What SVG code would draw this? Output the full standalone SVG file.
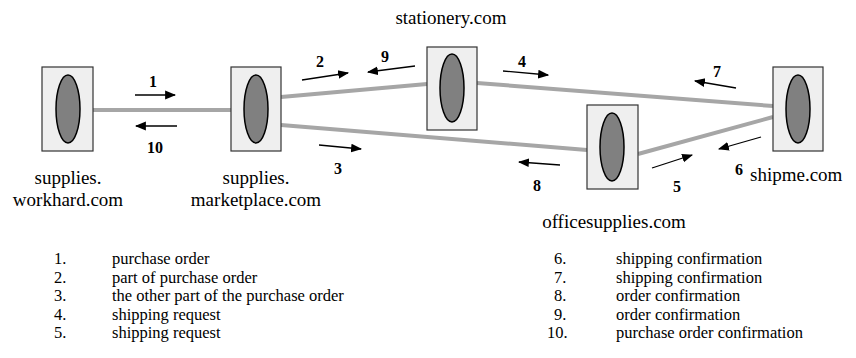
<svg xmlns="http://www.w3.org/2000/svg" width="856" height="358" viewBox="0 0 856 358">
<defs>
<marker id="ah" viewBox="0 0 10 10" refX="9" refY="5" markerWidth="11" markerHeight="11" markerUnits="userSpaceOnUse" orient="auto">
<path d="M0,1 L10,5 L0,9 Z" fill="#000"/>
</marker>
<style>
.box{fill:#efefef;stroke:#333;stroke-width:1.2}
.ell{fill:#808080;stroke:#000;stroke-width:1.5}
.link{stroke:#a6a6a6;stroke-width:4;fill:none}
.arr{stroke:#000;stroke-width:1.3;fill:none;marker-end:url(#ah)}
.lbl{font-family:"Liberation Serif","Times New Roman",serif;font-size:19px;fill:#000}
.num{font-family:"Liberation Serif","Times New Roman",serif;font-size:16px;font-weight:bold;fill:#000}
.leg{font-family:"Liberation Serif","Times New Roman",serif;font-size:16.5px;fill:#000}
</style>
</defs>
<g id="connectors">
<line class="link" x1="93" y1="110" x2="231" y2="110"/>
<line class="link" x1="281" y1="97" x2="427" y2="84"/>
<line class="link" x1="281" y1="125" x2="587" y2="150"/>
<line class="link" x1="477" y1="83" x2="773" y2="106"/>
<line class="link" x1="773" y1="117" x2="638" y2="154"/>
<line class="arr" x1="135" y1="95" x2="175" y2="95"/>
<line class="arr" x1="177" y1="126" x2="136" y2="126"/>
<line class="arr" x1="302" y1="80" x2="348" y2="73"/>
<line class="arr" x1="415" y1="66" x2="368" y2="72"/>
<line class="arr" x1="503" y1="71" x2="548" y2="75"/>
<line class="arr" x1="319" y1="145" x2="361" y2="149"/>
<line class="arr" x1="560" y1="165" x2="519" y2="162"/>
<line class="arr" x1="736" y1="88" x2="695" y2="81"/>
<line class="arr" x1="761" y1="137" x2="719" y2="149"/>
<line class="arr" x1="652" y1="168" x2="692" y2="155"/>
<text class="num" x="153" y="87" text-anchor="middle">1</text>
<text class="num" x="155" y="153" text-anchor="middle">10</text>
<text class="num" x="320" y="67" text-anchor="middle">2</text>
<text class="num" x="385" y="62" text-anchor="middle">9</text>
<text class="num" x="522" y="67" text-anchor="middle">4</text>
<text class="num" x="338" y="174" text-anchor="middle">3</text>
<text class="num" x="537" y="191" text-anchor="middle">8</text>
<text class="num" x="717" y="77" text-anchor="middle">7</text>
<text class="num" x="739" y="175" text-anchor="middle">6</text>
<text class="num" x="677" y="192" text-anchor="middle">5</text>
</g>
<g id="workhard">
<rect class="box" x="42" y="67" width="51" height="84"/>
<ellipse class="ell" cx="68" cy="109" rx="12" ry="34"/>
<text class="lbl" x="68" y="184" text-anchor="middle">supplies.</text>
<text class="lbl" x="68" y="206" text-anchor="middle">workhard.com</text>
</g>
<g id="marketplace">
<rect class="box" x="231" y="67" width="50" height="84"/>
<ellipse class="ell" cx="256" cy="109" rx="12" ry="34"/>
<text class="lbl" x="256" y="184" text-anchor="middle">supplies.</text>
<text class="lbl" x="256" y="206" text-anchor="middle">marketplace.com</text>
</g>
<g id="stationery">
<rect class="box" x="427" y="47" width="50" height="83"/>
<ellipse class="ell" cx="452" cy="88" rx="12" ry="34"/>
<text class="lbl" x="451" y="24" text-anchor="middle">stationery.com</text>
</g>
<g id="officesupplies">
<rect class="box" x="587" y="105" width="51" height="84"/>
<ellipse class="ell" cx="612" cy="147" rx="12" ry="34"/>
<text class="lbl" x="614" y="228" text-anchor="middle">officesupplies.com</text>
</g>
<g id="shipme">
<rect class="box" x="773" y="67" width="50" height="84"/>
<ellipse class="ell" cx="798" cy="109" rx="12" ry="34"/>
<text class="lbl" x="750" y="181">shipme.com</text>
</g>
<g id="legend">
<text class="leg" y="264"><tspan x="54">1.</tspan><tspan x="112">purchase order</tspan></text>
<text class="leg" y="282.5"><tspan x="54">2.</tspan><tspan x="112">part of purchase order</tspan></text>
<text class="leg" y="301"><tspan x="54">3.</tspan><tspan x="112">the other part of the purchase order</tspan></text>
<text class="leg" y="319.5"><tspan x="54">4.</tspan><tspan x="112">shipping request</tspan></text>
<text class="leg" y="338"><tspan x="54">5.</tspan><tspan x="112">shipping request</tspan></text>
<text class="leg" y="264"><tspan x="554">6.</tspan><tspan x="616">shipping confirmation</tspan></text>
<text class="leg" y="282.5"><tspan x="554">7.</tspan><tspan x="616">shipping confirmation</tspan></text>
<text class="leg" y="301"><tspan x="554">8.</tspan><tspan x="616">order confirmation</tspan></text>
<text class="leg" y="319.5"><tspan x="554">9.</tspan><tspan x="616">order confirmation</tspan></text>
<text class="leg" y="338"><tspan x="547">10.</tspan><tspan x="616">purchase order confirmation</tspan></text>
</g>
</svg>
